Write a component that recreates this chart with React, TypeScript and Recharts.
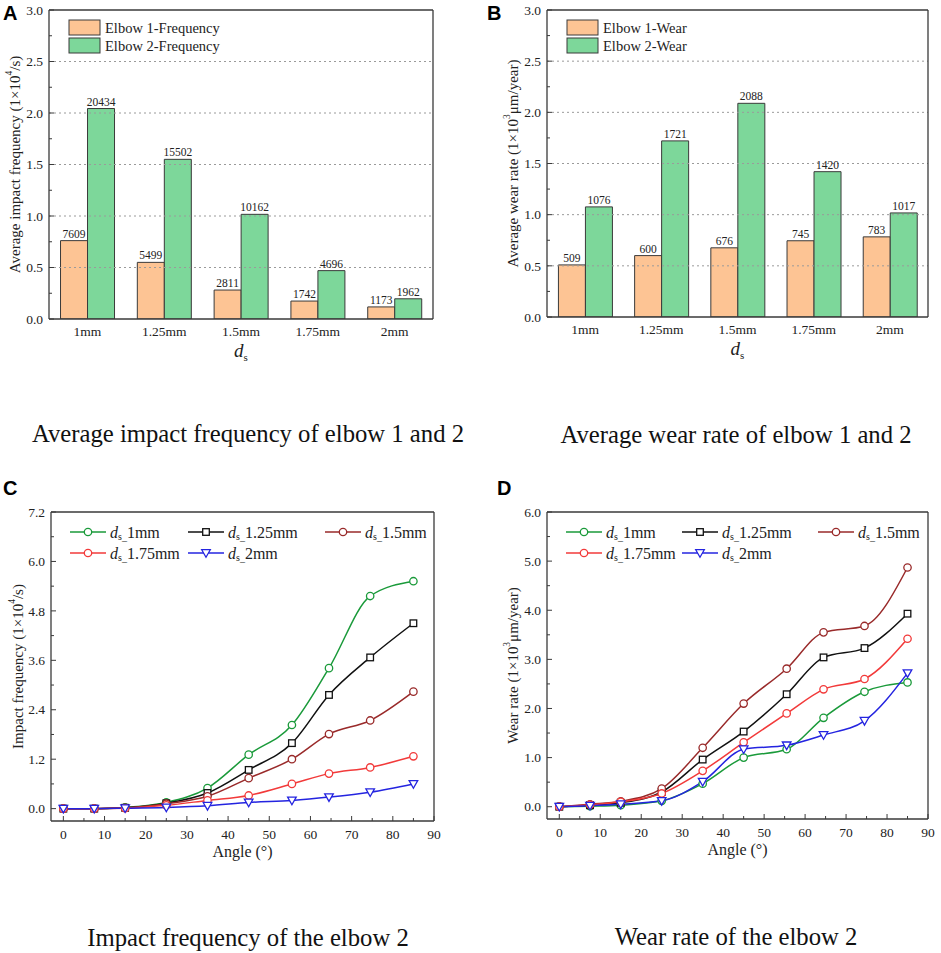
import React from "react";
import {
  BarChart,
  Bar,
  LineChart,
  Line,
  XAxis,
  YAxis,
  ReferenceLine,
  LabelList,
} from "recharts";

const SERIF = '"Liberation Serif", "Times New Roman", serif';
const SANS = '"Liberation Sans", Arial, sans-serif';
const AXIS = "#3a3a3a";
const TEXT = "#222";

// --- panels A / B: bar data ---
const sizeCategories = ["1mm", "1.25mm", "1.5mm", "1.75mm", "2mm"];
const freqElbow1 = [7609, 5499, 2811, 1742, 1173];
const freqElbow2 = [20434, 15502, 10162, 4696, 1962];
const wearElbow1 = [509, 600, 676, 745, 783];
const wearElbow2 = [1076, 1721, 2088, 1420, 1017];

const barMajorTicks = [0, 0.5, 1, 1.5, 2, 2.5, 3];
const barMinorTicks = [0.25, 0.75, 1.25, 1.75, 2.25, 2.75];
const barGridLines = [0.5, 1, 1.5, 2, 2.5];

// --- panels C / D: line data ---
const anglePoints = [0, 7.5, 15, 25, 35, 45, 55.5, 64.5, 74.5, 85];
const freq1mm = [0, 0, 0.03, 0.15, 0.5, 1.31, 2.03, 3.41, 5.16, 5.52];
const freq125mm = [0, 0, 0.02, 0.13, 0.38, 0.94, 1.59, 2.76, 3.67, 4.5];
const freq15mm = [0, 0, 0.02, 0.12, 0.3, 0.74, 1.2, 1.81, 2.14, 2.84];
const freq175mm = [0, 0, 0.01, 0.08, 0.2, 0.32, 0.6, 0.85, 1.0, 1.27];
const freq2mm = [0, 0, 0.01, 0.03, 0.07, 0.15, 0.2, 0.28, 0.4, 0.6];

const wear1mm = [0, 0.01, 0.03, 0.12, 0.47, 1.0, 1.17, 1.81, 2.34, 2.53];
const wear125mm = [0, 0.03, 0.08, 0.3, 0.96, 1.53, 2.29, 3.04, 3.23, 3.93];
const wear15mm = [0, 0.05, 0.11, 0.37, 1.2, 2.1, 2.81, 3.55, 3.68, 4.87];
const wear175mm = [0, 0.04, 0.1, 0.27, 0.73, 1.31, 1.9, 2.39, 2.6, 3.42];
const wear2mm = [0, 0.02, 0.05, 0.12, 0.51, 1.17, 1.25, 1.46, 1.75, 2.72];

const angleMajorTicks = [0, 10, 20, 30, 40, 50, 60, 70, 80, 90];
const angleMinorTicks = [5, 15, 25, 35, 45, 55, 65, 75, 85];
const freqMajorTicks = [0, 1.2, 2.4, 3.6, 4.8, 6.0, 7.2];
const freqMinorTicks = [0.6, 1.8, 3.0, 4.2, 5.4, 6.6];
const wearMajorTicks = [0, 1, 2, 3, 4, 5, 6];
const wearMinorTicks = [0.5, 1.5, 2.5, 3.5, 4.5, 5.5];

const ORANGE = "#fdc494";
const GREEN_BAR = "#7dd79a";

const lineSeries = [
  { key: "d1", label: "1mm", color: "#1a9a3a", shape: "circle" },
  { key: "d125", label: "1.25mm", color: "#111111", shape: "square" },
  { key: "d15", label: "1.5mm", color: "#992a2a", shape: "circle" },
  { key: "d175", label: "1.75mm", color: "#f23a3a", shape: "circle" },
  { key: "d2", label: "2mm", color: "#2424e0", shape: "tri" },
];

const sortNum = (a: number[]) => [...a].sort((x, y) => x - y);

const freqBars = sizeCategories.map((size, i) => ({
  size,
  e1: freqElbow1[i] / 10000,
  e2: freqElbow2[i] / 10000,
  raw1: freqElbow1[i],
  raw2: freqElbow2[i],
}));

const wearBars = sizeCategories.map((size, i) => ({
  size,
  e1: wearElbow1[i] / 1000,
  e2: wearElbow2[i] / 1000,
  raw1: wearElbow1[i],
  raw2: wearElbow2[i],
}));

const freqLines = anglePoints.map((angle, i) => ({
  angle,
  d1: freq1mm[i],
  d125: freq125mm[i],
  d15: freq15mm[i],
  d175: freq175mm[i],
  d2: freq2mm[i],
}));

const wearLines = anglePoints.map((angle, i) => ({
  angle,
  d1: wear1mm[i],
  d125: wear125mm[i],
  d15: wear15mm[i],
  d175: wear175mm[i],
  d2: wear2mm[i],
}));

// inward tick marks, labels only on the majors
function YTick(props: any) {
  const { x, y, payload, majors } = props;
  const v = payload.value;
  const major = majors.includes(v);
  const ax = x + 6;
  return (
    <g>
      <line x1={ax} x2={ax + (major ? 5 : 3)} y1={y} y2={y} stroke={AXIS} strokeWidth={1} />
      {major && (
        <text x={x} y={y} dy="0.35em" textAnchor="end" fontFamily={SERIF} fontSize={13.5} fill={TEXT}>
          {v.toFixed(1)}
        </text>
      )}
    </g>
  );
}

function AngleTick(props: any) {
  const { x, y, payload } = props;
  const v = payload.value;
  const major = angleMajorTicks.includes(v);
  const ay = y - 8;
  return (
    <g>
      <line x1={x} x2={x} y1={ay} y2={ay - (major ? 5 : 3)} stroke={AXIS} strokeWidth={1} />
      {major && (
        <text x={x} y={y} dy="0.71em" textAnchor="middle" fontFamily={SERIF} fontSize={13.5} fill={TEXT}>
          {v}
        </text>
      )}
    </g>
  );
}

function yTitle(cx: number, base: string, sup: string, tail: string) {
  return (p: any) => {
    const vb = p.viewBox || {};
    const cy = vb.y + vb.height / 2;
    return (
      <text
        transform={`translate(${cx},${cy}) rotate(-90)`}
        textAnchor="middle"
        dominantBaseline="central"
        fontFamily={SERIF}
        fontSize={15}
        fill={TEXT}
      >
        {base}
        <tspan dy={-6} fontSize={9.5}>{sup}</tspan>
        <tspan dy={6}>{tail}</tspan>
      </text>
    );
  };
}

function dsTitle(dy: number) {
  return (p: any) => {
    const vb = p.viewBox || {};
    const cx = vb.x + vb.width / 2;
    return (
      <text x={cx} y={vb.y + dy} textAnchor="middle" fontFamily={SERIF} fontSize={19} fill={TEXT}>
        <tspan fontStyle="italic">d</tspan>
        <tspan fontSize={11} dy={4}>s</tspan>
      </text>
    );
  };
}

function angleTitle(dy: number) {
  return (p: any) => {
    const vb = p.viewBox || {};
    const cx = vb.x + vb.width / 2;
    return (
      <text x={cx} y={vb.y + dy} textAnchor="middle" fontFamily={SERIF} fontSize={16} fill={TEXT}>
        Angle (°)
      </text>
    );
  };
}

function Marker({ cx, cy, shape, color }: any) {
  if (cx == null || cy == null) return null;
  if (shape === "square")
    return <rect x={cx - 3.3} y={cy - 3.3} width={6.6} height={6.6} fill="#fff" stroke={color} strokeWidth={1.3} />;
  if (shape === "tri")
    return (
      <path
        d={`M${cx - 4.3},${cy - 3.3} L${cx + 4.3},${cy - 3.3} L${cx},${cy + 4.3} Z`}
        fill="#fff"
        stroke={color}
        strokeWidth={1.3}
      />
    );
  return <circle cx={cx} cy={cy} r={3.7} fill="#fff" stroke={color} strokeWidth={1.3} />;
}

function Dsub({ x, y, label }: { x: number; y: number; label: string }) {
  return (
    <text x={x} y={y} dominantBaseline="central" fontFamily={SERIF} fontSize={16} fill={TEXT}>
      <tspan fontStyle="italic">d</tspan>
      <tspan fontSize={10} dy={4}>s_</tspan>
      <tspan dy={-4}>{label}</tspan>
    </text>
  );
}

function LineLegend({ cols, rows }: { cols: number[]; rows: number[] }) {
  return (
    <g>
      {lineSeries.map((s, i) => {
        const lx = cols[i % 3];
        const ly = rows[Math.floor(i / 3)];
        return (
          <g key={s.key}>
            <line x1={lx} x2={lx + 36} y1={ly} y2={ly} stroke={s.color} strokeWidth={1.5} />
            <Marker cx={lx + 18} cy={ly} shape={s.shape} color={s.color} />
            <Dsub x={lx + 40} y={ly} label={s.label} />
          </g>
        );
      })}
    </g>
  );
}

function BarLegend({ x, names }: { x: number; names: string[] }) {
  return (
    <g fontFamily={SERIF} fontSize={14.5} fill={TEXT}>
      <rect x={x} y={20} width={31} height={15} fill={ORANGE} stroke={AXIS} />
      <rect x={x} y={38} width={31} height={15} fill={GREEN_BAR} stroke={AXIS} />
      <text x={x + 36} y={28} dominantBaseline="central">{names[0]}</text>
      <text x={x + 36} y={46} dominantBaseline="central">{names[1]}</text>
    </g>
  );
}

function BarPanel({ data, width, height, margin, yWidth, xHeight, title }: any) {
  const frame = { stroke: AXIS, strokeWidth: 1.3 };
  return (
    <BarChart width={width} height={height} data={data} margin={margin} barCategoryGap="15%" barGap={0}>
      <XAxis
        dataKey="size"
        height={xHeight}
        interval={0}
        tickLine={false}
        tickSize={0}
        tickMargin={7}
        axisLine={frame}
        tick={{ fontFamily: SERIF, fontSize: 13.5, fill: TEXT }}
        label={{ content: dsTitle(38) }}
      />
      <XAxis xAxisId="top" dataKey="size" orientation="top" height={1} tick={false} tickLine={false} axisLine={frame} />
      <YAxis
        type="number"
        domain={[0, 3]}
        ticks={sortNum([...barMajorTicks, ...barMinorTicks])}
        interval={0}
        width={yWidth}
        tickLine={false}
        tickSize={0}
        tickMargin={6}
        axisLine={frame}
        allowDataOverflow
        tick={(p: any) => <YTick {...p} majors={barMajorTicks} />}
        label={{ content: title }}
      />
      <YAxis yAxisId="right" orientation="right" width={1} domain={[0, 3]} tick={false} tickLine={false} axisLine={frame} />
      {barGridLines.map((v) => (
        <ReferenceLine key={v} y={v} stroke="#9a9a9a" strokeDasharray="2 3" strokeWidth={1} />
      ))}
      <Bar dataKey="e1" fill={ORANGE} stroke={AXIS} strokeWidth={1} isAnimationActive={false}>
        <LabelList dataKey="raw1" position="top" offset={3} fontFamily={SERIF} fontSize={11.5} fill={TEXT} />
      </Bar>
      <Bar dataKey="e2" fill={GREEN_BAR} stroke={AXIS} strokeWidth={1} isAnimationActive={false}>
        <LabelList dataKey="raw2" position="top" offset={3} fontFamily={SERIF} fontSize={11.5} fill={TEXT} />
      </Bar>
    </BarChart>
  );
}

function LinePanel({ data, width, height, margin, yWidth, xHeight, yDomain, yMajors, yMinors, title }: any) {
  const frame = { stroke: AXIS, strokeWidth: 1.3 };
  return (
    <LineChart width={width} height={height} data={data} margin={margin}>
      <XAxis
        dataKey="angle"
        type="number"
        domain={[-3, 90]}
        ticks={sortNum([...angleMajorTicks, ...angleMinorTicks])}
        interval={0}
        height={xHeight}
        tickLine={false}
        tickSize={0}
        tickMargin={8}
        axisLine={frame}
        allowDataOverflow
        tick={(p: any) => <AngleTick {...p} />}
        label={{ content: angleTitle(36) }}
      />
      <XAxis
        xAxisId="top"
        dataKey="angle"
        type="number"
        domain={[-3, 90]}
        orientation="top"
        height={1}
        tick={false}
        tickLine={false}
        axisLine={frame}
      />
      <YAxis
        type="number"
        domain={yDomain}
        ticks={sortNum([...yMajors, ...yMinors])}
        interval={0}
        width={yWidth}
        tickLine={false}
        tickSize={0}
        tickMargin={6}
        axisLine={frame}
        allowDataOverflow
        tick={(p: any) => <YTick {...p} majors={yMajors} />}
        label={{ content: title }}
      />
      <YAxis yAxisId="right" orientation="right" width={1} domain={yDomain} tick={false} tickLine={false} axisLine={frame} />
      {lineSeries.map((s) => (
        <Line
          key={s.key}
          type="monotone"
          dataKey={s.key}
          stroke={s.color}
          strokeWidth={1.5}
          isAnimationActive={false}
          dot={(p: any) => (
            <Marker key={`${s.key}-${p.index}`} cx={p.cx} cy={p.cy} shape={s.shape} color={s.color} />
          )}
          activeDot={false}
        />
      ))}
    </LineChart>
  );
}

const captionStyle: React.CSSProperties = {
  position: "absolute",
  fontFamily: SERIF,
  fontSize: 24.7,
  lineHeight: "25px",
  textAlign: "center",
  color: "#111",
  whiteSpace: "nowrap",
};

export default function App() {
  return (
    <div style={{ position: "absolute", left: 0, top: 0, width: 941, height: 953, background: "#fff", overflow: "hidden" }}>
      <div style={{ position: "absolute", left: 0, top: 0 }}>
        <BarPanel
          data={freqBars}
          width={470}
          height={380}
          margin={{ top: 9, right: 36, bottom: 0, left: 0 }}
          yWidth={49}
          xHeight={61}
          title={yTitle(15, "Average impact frequency (1×10", "4", "/s)")}
        />
      </div>
      <div style={{ position: "absolute", left: 470, top: 0 }}>
        <BarPanel
          data={wearBars}
          width={471}
          height={380}
          margin={{ top: 9, right: 12, bottom: 0, left: 0 }}
          yWidth={77}
          xHeight={63}
          title={yTitle(43, "Average wear rate (1×10", "3", "μm/year)")}
        />
      </div>
      <div style={{ position: "absolute", left: 0, top: 450 }}>
        <LinePanel
          data={freqLines}
          width={470}
          height={420}
          margin={{ top: 61, right: 35, bottom: 0, left: 0 }}
          yWidth={51}
          xHeight={49}
          yDomain={[-0.3, 7.2]}
          yMajors={freqMajorTicks}
          yMinors={freqMinorTicks}
          title={yTitle(18, "Impact frequency (1×10", "4", "/s)")}
        />
      </div>
      <div style={{ position: "absolute", left: 470, top: 450 }}>
        <LinePanel
          data={wearLines}
          width={471}
          height={420}
          margin={{ top: 61, right: 12, bottom: 0, left: 0 }}
          yWidth={77}
          xHeight={51}
          yDomain={[-0.25, 6]}
          yMajors={wearMajorTicks}
          yMinors={wearMinorTicks}
          title={yTitle(43, "Wear rate (1×10", "3", "μm/year)")}
        />
      </div>

      <svg width={941} height={953} style={{ position: "absolute", left: 0, top: 0, pointerEvents: "none" }}>
        <g fontFamily={SANS} fontWeight="bold" fontSize={20} fill="#000">
          <text x={3} y={20}>A</text>
          <text x={487} y={20}>B</text>
          <text x={3} y={495}>C</text>
          <text x={497} y={495}>D</text>
        </g>
        <BarLegend x={69} names={["Elbow 1-Frequency", "Elbow 2-Frequency"]} />
        <BarLegend x={567} names={["Elbow 1-Wear", "Elbow 2-Wear"]} />
        <LineLegend cols={[70, 188, 325]} rows={[532, 553]} />
        <LineLegend cols={[566, 682, 818]} rows={[532, 553]} />
      </svg>

      <div style={{ ...captionStyle, left: 0, top: 421, width: 496 }}>Average impact frequency of elbow 1 and 2</div>
      <div style={{ ...captionStyle, left: 501, top: 422, width: 470 }}>Average wear rate of elbow 1 and 2</div>
      <div style={{ ...captionStyle, left: 0, top: 925, width: 496 }}>Impact frequency of the elbow 2</div>
      <div style={{ ...captionStyle, left: 501, top: 924, width: 470 }}>Wear rate of the elbow 2</div>
    </div>
  );
}
